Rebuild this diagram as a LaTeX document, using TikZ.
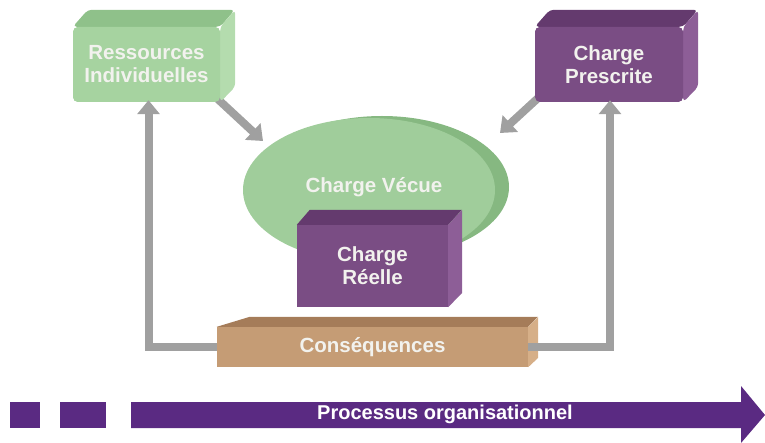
\documentclass[tikz,border=0pt]{standalone}
\usepackage{fontspec}
\setmainfont{Liberation Sans}
\usetikzlibrary{arrows.meta,shapes.geometric}
\definecolor{gfront}{HTML}{A6D3A0}
\definecolor{gtop}{HTML}{8FC18A}
\definecolor{gside}{HTML}{B4DCAE}
\definecolor{pfront}{HTML}{7A4D84}
\definecolor{ptop}{HTML}{643A6E}
\definecolor{pside}{HTML}{8D5E97}
\definecolor{ellf}{HTML}{A0CD9B}
\definecolor{ellr}{HTML}{86B881}
\definecolor{tfront}{HTML}{C59C75}
\definecolor{ttop}{HTML}{A57C59}
\definecolor{tside}{HTML}{D6AF88}
\definecolor{procc}{HTML}{5A2A82}
\definecolor{conng}{HTML}{A0A0A0}
\definecolor{txt}{HTML}{F2F2EE}
\tikzset{
  lbl/.style={text=txt, font=\bfseries\fontsize{20.5}{23}\selectfont, align=center, inner sep=0pt},
  frontbox/.style={lbl, rounded corners=5pt},
  conn/.style={draw=conng, line width=8pt, -{Triangle[width=22pt,length=14pt]}},
}
\begin{document}
\begin{tikzpicture}[x=1pt,y=-1pt]
\useasboundingbox (0,0) rectangle (765,443);

\coordinate (a1) at (263,141);
\coordinate (a2) at (500,133);

% Ressources Individuelles
\node[frontbox, fill=gfront, minimum width=147pt, minimum height=75pt] (ri) at (146.5,64.5) {Ressources\\Individuelles};
% Charge Prescrite
\node[frontbox, fill=pfront, minimum width=148pt, minimum height=75pt] (cp) at (609,64.5) {Charge\\Prescrite};

\draw[conn] ([shift={(-12,-12)}]ri.south east) -- (a1);
\draw[conn] ([shift={(14,-14)}]cp.south west) -- (a2);

\fill[gtop, rounded corners=4pt] (ri.north west) -- ++(15,-17) -- ++(147,0) -- (ri.north east) -- cycle;
\fill[gside, rounded corners=4pt] (ri.north east) -- ++(15,-17) -- ++(0,77) -- (ri.south east) -- cycle;
\node[frontbox, fill=gfront, minimum width=147pt, minimum height=75pt] at (ri) {Ressources\\Individuelles};

\fill[ptop, rounded corners=4pt] (cp.north west) -- ++(15,-17) -- ++(148,0) -- (cp.north east) -- cycle;
\fill[pside, rounded corners=4pt] (cp.north east) -- ++(15,-17) -- ++(0,77) -- (cp.south east) -- cycle;
\node[frontbox, fill=pfront, minimum width=148pt, minimum height=75pt] at (cp) {Charge\\Prescrite};

% Charge Vécue ellipse
\fill[ellr] (382,187) ellipse [x radius=127, y radius=71];
\node[ellipse, fill=ellf, minimum width=252pt, minimum height=144pt, inner sep=0pt] (cv) at (369,190) {};
\node[lbl] (cvt) at (374,187) {Charge Vécue};

% Charge Réelle
\node[lbl, fill=pfront, minimum width=151pt, minimum height=82pt] (cr) at (372.5,266) {Charge\\Réelle};
\fill[ptop] (cr.north west) -- ++(13,-15) -- ++(152,0) -- (cr.north east) -- cycle;
\fill[pside] (cr.north east) -- ++(14,-15) -- ++(0,83) -- (cr.south east) -- cycle;

% Conséquences
\node[lbl, fill=tfront, minimum width=311pt, minimum height=40pt] (cq) at (372.5,347) {Conséquences};
\fill[ttop] (cq.north west) -- ++(33,-10) -- ++(288,0) -- (cq.north east) -- cycle;
\fill[tside] (cq.north east) -- ++(10,-10) -- ++(0,41) -- (cq.south east) -- cycle;

% feedback connectors
\draw[conn] (cq.west) -| ([xshift=2pt,yshift=2pt]ri.south);
\draw[conn] (cq.east) -| ([xshift=1pt,yshift=2pt]cp.south);

% process arrow
\fill[procc] (10,402) rectangle (40,428);
\fill[procc] (60,402) rectangle (106,428);
\fill[procc] (131,402) -- (741,402) -- (741,386) -- (765,415) -- (741,443) -- (741,428) -- (131,428) -- cycle;
\node[lbl, text=white, font=\bfseries\fontsize{20}{22}\selectfont] (proc) at (445,414) {Processus organisationnel};
\end{tikzpicture}
\end{document}
